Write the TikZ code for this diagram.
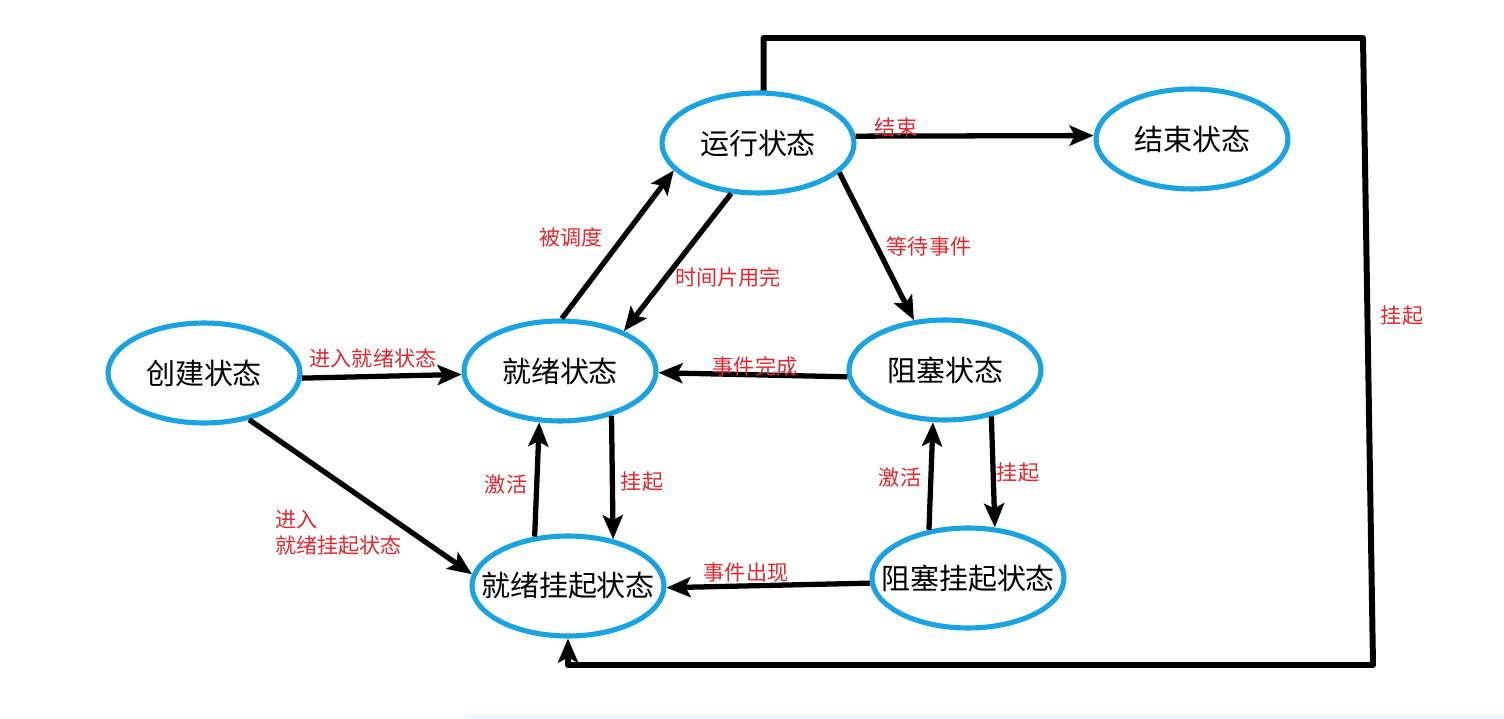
\documentclass[tikz,border=0pt]{standalone}
\usepackage{fontspec}
\usepackage{tikz}
\usetikzlibrary{shapes.geometric, arrows.meta}

\newfontfamily\cjk{Noto Sans CJK SC}
\definecolor{stateblue}{RGB}{25,163,226}
\definecolor{labelred}{RGB}{228,38,45}
\definecolor{bandblue}{RGB}{238,246,252}

\tikzset{
    state/.style={ellipse, draw=stateblue, line width=2.9pt, minimum width=3.84cm, minimum height=2cm, inner sep=0pt, font=\cjk\fontsize{16.5}{18}\selectfont},
    tag/.style={text=labelred, font=\cjk\fontsize{12}{15}\selectfont, inner sep=0pt},
    move/.style={line width=3pt, line join=round, -{Stealth[length=0.48cm, width=0.40cm, inset=0.1cm]}}
}
\newcommand{\statetext}[1]{\makebox[0pt]{#1}}

\begin{document}
\begin{tikzpicture}[x=0.02cm, y=-0.02cm]
    \useasboundingbox (0, 0) rectangle (1504, 719);
    \fill[bandblue] (465, 714) rectangle (1504, 719);

    % States
    \node[state] (create) at (204, 373) {\statetext{创建状态}};
    \node[state] (ready) at (560, 371) {\statetext{就绪状态}};
    \node[state] (run) at (758, 143) {\statetext{运行状态}};
    \node[state] (end) at (1192, 139) {\statetext{结束状态}};
    \node[state] (block) at (945, 370) {\statetext{阻塞状态}};
    \node[state] (rsusp) at (568, 586) {\statetext{就绪挂起状态}};
    \node[state] (bsusp) at (968, 578) {\statetext{阻塞挂起状态}};

    % Transitions
    \draw[move] (create.-3) -- (ready.182);
    \draw[move] (create.-46) -- (rsusp.173);
    \draw[move] (ready.88) -- (run.198);
    \draw[move] (run.242) -- (ready.32);
    \draw[move] (run.4) -- (end.178);
    \draw[move] (run.-20) -- (block.122);
    \draw[move] (block.184) -- (ready.-1);
    \draw[move] (rsusp.124) -- (ready.248);
    \draw[move] (ready.-41) -- (rsusp.46);
    \draw[move] (bsusp.129) -- (block.257);
    \draw[move] (block.-45) -- (bsusp.62);
    \draw[move] (bsusp.183) -- (rsusp.-1);

    % Suspend loop from running state
    \coordinate (loopTR) at (1363, 38);
    \coordinate (loopBR) at (1373, 665);
    \draw[move, line width=3.4pt] (run.84) |- (loopTR) -- (loopBR) -| (rsusp.south);

    % Labels
    \node[tag] (lblEnter) at (373, 358) {进入就绪状态};
    \node[tag, align=left, anchor=west] (lblEnterSusp) at (275, 533) {进入\\就绪挂起状态};
    \node[tag] (lblDispatch) at (571, 237) {被调度};
    \node[tag] (lblTimeout) at (728, 277) {时间片用完};
    \node[tag] (lblFinish) at (896, 127) {结束};
    \node[tag] (lblWait) at (929, 246) {等待事件};
    \node[tag] (lblDone) at (755, 366) {事件完成};
    \node[tag] (lblActL) at (506, 484) {激活};
    \node[tag] (lblSuspL) at (642, 482) {挂起};
    \node[tag] (lblActR) at (900, 477) {激活};
    \node[tag] (lblSuspR) at (1018, 473) {挂起};
    \node[tag] (lblOccur) at (746, 573) {事件出现};
    \node[tag] (lblSuspRun) at (1402, 316) {挂起};
\end{tikzpicture}
\end{document}
